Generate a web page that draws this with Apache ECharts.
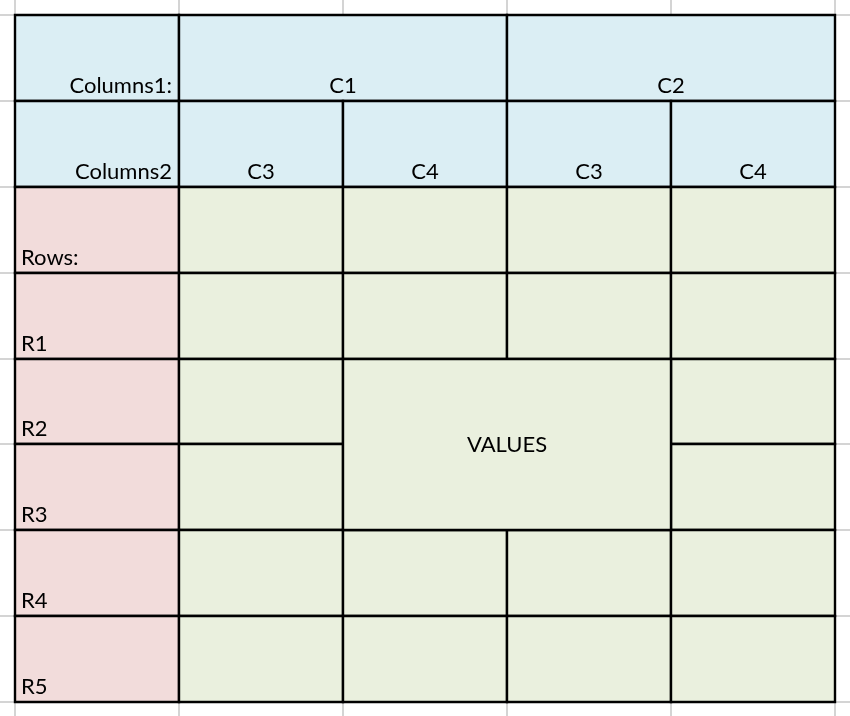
<!DOCTYPE html>
<html>
<head>
<meta charset="utf-8">
<script src="https://cdn.jsdelivr.net/npm/echarts@6/dist/echarts.min.js"></script>
<style>
html,body{margin:0;padding:0;background:#fff;}
#chart{width:850px;height:716px;}
</style>
</head>
<body>
<div id="chart"></div>
<script>
// ---- data ----
const columns1Label = 'Columns1:';
const columns2Label = 'Columns2';
const rowsLabel = 'Rows:';
const valuesLabel = 'VALUES';
const columns1 = ['C1', 'C2'];
const columns2 = ['C3', 'C4', 'C3', 'C4'];
const rows = ['R1', 'R2', 'R3', 'R4', 'R5'];

// ---- styles ----
const FILL = { blue: '#DBEEF4', pink: '#F2DCDB', green: '#EAF0DE' };
const FONT = 'Lato, "Open Sans", sans-serif';
const FONT_SIZE = 22;

// ---- build table structure (grid units) ----
const nCols = 1 + columns2.length;          // 5
const nRows = 2 + 1 + rows.length;          // 8
const cells = []; // [col, row, colspan, rowspan, text, fill, align]
cells.push([0, 0, 1, 1, columns1Label, 'blue', 'right']);
columns1.forEach((c, i) => cells.push([1 + i * 2, 0, 2, 1, c, 'blue', 'center']));
cells.push([0, 1, 1, 1, columns2Label, 'blue', 'right']);
columns2.forEach((c, i) => cells.push([1 + i, 1, 1, 1, c, 'blue', 'center']));
cells.push([0, 2, 1, 1, rowsLabel, 'pink', 'left']);
for (let c = 1; c < nCols; c++) cells.push([c, 2, 1, 1, '', 'green', 'center']);
rows.forEach((r, k) => {
  const row = 3 + k;
  cells.push([0, row, 1, 1, r, 'pink', 'left']);
  for (let c = 1; c < nCols; c++) {
    if ((c === 2 || c === 3) && (row === 4 || row === 5)) continue;
    cells.push([c, row, 1, 1, '', 'green', 'center']);
  }
});
cells.push([2, 4, 2, 2, valuesLabel, 'green', 'middle']);

// gray sheet gridlines
const gridLines = [];
for (let c = 0; c <= nCols; c++) gridLines.push(['v', c]);
for (let r = 0; r <= nRows; r++) gridLines.push(['h', r]);

const chart = echarts.init(document.getElementById('chart'), null, { renderer: 'canvas' });
const R = Math.round;

const option = {
  animation: false,
  backgroundColor: '#ffffff',
  grid: { left: 15, top: 15, width: 820, height: 687, containLabel: false },
  xAxis: { type: 'value', min: 0, max: nCols, show: false },
  yAxis: { type: 'value', min: 0, max: nRows, inverse: true, show: false },
  series: [
    {
      type: 'custom',
      clip: false,
      silent: true,
      data: gridLines.map((g, i) => [i]),
      renderItem: function (params, api) {
        const g = gridLines[params.dataIndex];
        let p1, p2;
        if (g[0] === 'v') {
          p1 = api.coord([g[1], -2]);
          p2 = api.coord([g[1], nRows + 2]);
        } else {
          p1 = api.coord([-2, g[1]]);
          p2 = api.coord([nCols + 2, g[1]]);
        }
        return {
          type: 'line',
          shape: { x1: R(p1[0]), y1: R(p1[1]), x2: R(p2[0]), y2: R(p2[1]) },
          style: { stroke: '#D4D4D4', lineWidth: 2 }
        };
      }
    },
    {
      type: 'custom',
      clip: false,
      silent: true,
      data: cells.map(c => [c[0], c[1], c[2], c[3]]),
      renderItem: function (params, api) {
        const c = cells[params.dataIndex];
        const tl = api.coord([c[0], c[1]]);
        const br = api.coord([c[0] + c[2], c[1] + c[3]]);
        const x = R(tl[0]), y = R(tl[1]), w = R(br[0]) - x, h = R(br[1]) - y;
        const children = [{
          type: 'rect',
          shape: { x: x, y: y, width: w, height: h },
          style: { fill: FILL[c[5]], stroke: '#000000', lineWidth: 2.4 }
        }];
        if (c[4]) {
          let tx, ty, align = 'center', va = 'bottom';
          if (c[6] === 'right') { tx = x + w - 7; align = 'right'; ty = y + h - 4; }
          else if (c[6] === 'left') { tx = x + 6; align = 'left'; ty = y + h - 4; }
          else if (c[6] === 'center') { tx = x + w / 2; ty = y + h - 4; }
          else { tx = x + w / 2; ty = y + h / 2; va = 'middle'; }
          children.push({
            type: 'text',
            style: {
              x: tx, y: ty, text: c[4], fill: '#000000',
              font: FONT_SIZE + 'px ' + FONT,
              align: align, verticalAlign: va
            }
          });
        }
        return { type: 'group', children: children };
      }
    }
  ]
};
chart.setOption(option);
</script>
</body>
</html>
